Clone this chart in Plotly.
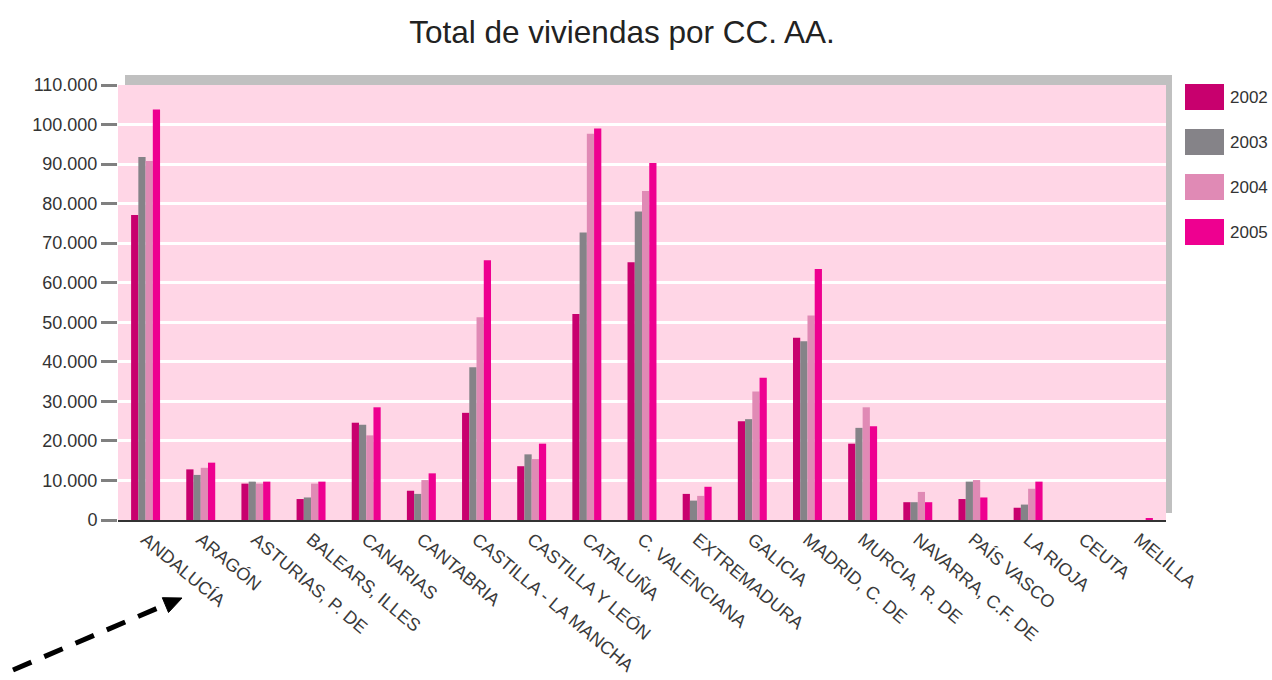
import plotly.graph_objects as go

regions = ["ANDALUCÍA", "ARAGÓN", "ASTURIAS, P. DE", "BALEARS, ILLES", "CANARIAS",
           "CANTABRIA", "CASTILLA - LA MANCHA", "CASTILLA Y LEÓN", "CATALUÑA",
           "C. VALENCIANA", "EXTREMADURA", "GALICIA", "MADRID, C. DE", "MURCIA, R. DE",
           "NAVARRA, C.F. DE", "PAÍS VASCO", "LA RIOJA", "CEUTA", "MELILLA"]
years = ["2002", "2003", "2004", "2005"]
v2002 = [77100, 12800, 9200, 5300, 24600, 7400, 27100, 13600, 52100, 65200, 6600,
         25000, 46100, 19300, 4500, 5300, 3100, 0, 0]
v2003 = [91800, 11400, 9700, 5700, 24100, 6600, 38600, 16600, 72700, 78000, 4900,
         25500, 45200, 23300, 4500, 9700, 3900, 0, 0]
v2004 = [90800, 13200, 9200, 9200, 21400, 10100, 51300, 15400, 97700, 83200, 6100,
         32500, 51700, 28500, 7100, 10100, 7900, 0, 0]
v2005 = [103800, 14500, 9700, 9700, 28500, 11800, 65700, 19300, 99000, 90300, 8400,
         36000, 63500, 23700, 4500, 5700, 9700, 0, 400]
series = [v2002, v2003, v2004, v2005]
colors = ["#C8006E", "#858388", "#E08AB5", "#EE0090"]
ytick_vals = [0, 10000, 20000, 30000, 40000, 50000, 60000, 70000, 80000, 90000, 100000, 110000]
ytick_text = ["0", "10.000", "20.000", "30.000", "40.000", "50.000", "60.000",
              "70.000", "80.000", "90.000", "100.000", "110.000"]

W, H = 1272, 680
L, R, T, B = 118, 106, 85, 160
PW, PH = W - L - R, H - T - B


def px(x):
    return (x - L) / PW


def py(y):
    return (H - B - y) / PH


FONT = "Liberation Sans, Arial, sans-serif"

fig = go.Figure()
for name, vals, col in zip(years, series, colors):
    fig.add_trace(go.Bar(x=regions, y=vals, name=name, marker_color=col,
                         marker_line_width=0, showlegend=False))

shapes = [
    # gray shadow
    dict(type="rect", xref="paper", yref="paper", x0=px(125), x1=px(1172),
         y0=py(513), y1=py(75), fillcolor="#C0C0C0", line_width=0, layer="below"),
    # pink plot background
    dict(type="rect", xref="paper", yref="paper", x0=0, x1=1, y0=0, y1=1,
         fillcolor="#FFD6E6", line_width=0, layer="below"),
]
annotations = []
# legend
for i, (name, col) in enumerate(zip(years, colors)):
    top = 84 + i * 45
    shapes.append(dict(type="rect", xref="paper", yref="paper", x0=px(1185), x1=px(1224),
                       y0=py(top + 26), y1=py(top), fillcolor=col,
                       line=dict(color="#FFFFFF", width=0)))
    annotations.append(dict(xref="paper", yref="paper", x=px(1228), y=py(top + 13),
                            text=name, showarrow=False, xanchor="left", yanchor="middle",
                            font=dict(family=FONT, size=17, color="#333333")))

# dashed arrow
shapes.append(dict(type="line", xref="paper", yref="paper", x0=px(13), y0=py(670),
                   x1=px(165), y1=py(605), line=dict(color="black", width=5, dash="20px,14px")))
shapes.append(dict(type="path", xref="paper", yref="paper",
                   path=f"M {px(182)} {py(598)} L {px(168.5)} {py(612.5)} L {px(162.3)} {py(597.7)} Z",
                   fillcolor="black", line=dict(color="black", width=1)))

fig.update_layout(
    width=W, height=H,
    margin=dict(l=L, r=R, t=T, b=B, autoexpand=False),
    paper_bgcolor="white",
    plot_bgcolor="rgba(0,0,0,0)",
    barmode="group", bargap=0.475, bargroupgap=0,
    title=dict(text="Total de viviendas por CC. AA.", x=622 / W, xanchor="center",
               y=1 - 32 / H, yanchor="middle",
               font=dict(family=FONT, size=31.5, color="#222222")),
    font=dict(family=FONT, color="#333333"),
    xaxis=dict(tickangle=40, tickfont=dict(size=18, color="#3a3a3a"),
               showline=True, linecolor="#333333", linewidth=2, ticks="",
               showgrid=False, zeroline=False),
    yaxis=dict(range=[0, 110000], tickvals=ytick_vals, ticktext=ytick_text,
               tickfont=dict(size=18, color="#333333"),
               showgrid=True, gridcolor="white", gridwidth=2.5,
               ticks="outside", ticklen=16, tickwidth=3, tickcolor="#808080",
               showline=False, zeroline=False),
    shapes=shapes,
    annotations=annotations,
    showlegend=False,
)

fig.write_html("out.html", config={"displayModeBar": False},
               post_script="document.body.style.margin='0';document.body.style.overflow='hidden';")
